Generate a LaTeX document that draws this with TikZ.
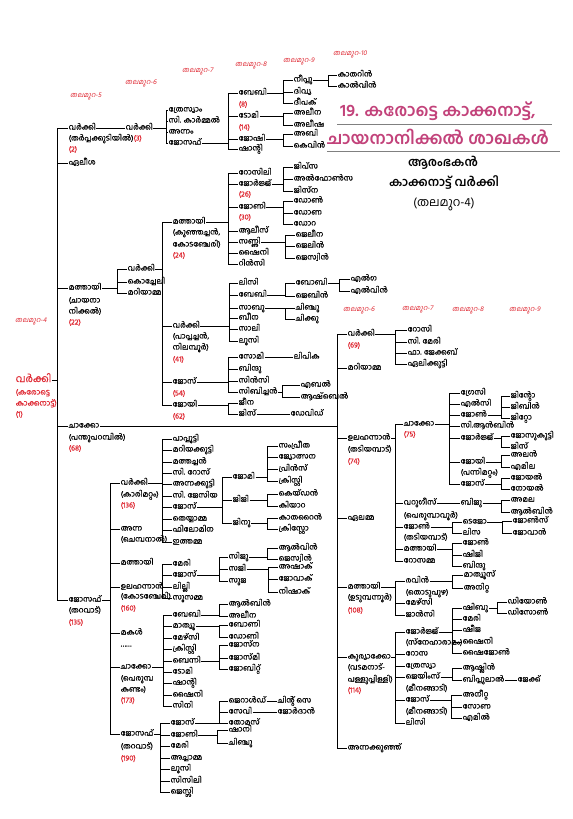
\documentclass[tikz,border=0pt]{standalone}
\usepackage{fontspec}
\newfontfamily\mlf[Script=Malayalam]{Hind Kochi}
\newfontfamily\mlm[Script=Malayalam,FakeBold=0.35]{Hind Kochi}
\newfontfamily\mlsl[Script=Malayalam,FakeSlant=0.2]{Hind Kochi}
\definecolor{redg}{RGB}{222,40,50}
\definecolor{ttl}{RGB}{194,66,122}
\newcommand\famln[5]{%
  \coordinate (vv) at (#2,0);
  \draw[ln] (#1.east) -- (#1.east -| vv);
  \draw[ln] (#3.west -| vv) -- (#4.west -| vv);
  \foreach \ch in {#5} {\draw[ln] (\ch.west -| vv) -- (\ch.west);}
}
\tikzset{
 nm/.style={anchor=west, inner sep=0.5bp, font=\mlm\fontsize{7.6}{9}\selectfont, text height=5bp, text depth=2bp},
 rn/.style={nm, text=redg},
 gl/.style={anchor=west, inner sep=0pt, font=\mlsl\fontsize{7}{8}\selectfont, text=redg},
 ln/.style={line width=0.8bp, black},
 ttlf/.style={anchor=west, inner sep=0pt, font=\mlf\bfseries\fontsize{17}{20}\selectfont, text=ttl},
}
\begin{document}
\begin{tikzpicture}[x=1bp,y=-1bp]
\useasboundingbox (0,0) rectangle (573,819);
% generation labels
\node[gl] (g5) at (70,97) {തലമുറ-5};
\node[gl] (g6) at (125,83) {തലമുറ-6};
\node[gl] (g7) at (182,72) {തലമുറ-7};
\node[gl] (g8) at (235,65) {തലമുറ-8};
\node[gl] (g9) at (283,61) {തലമുറ-9};
\node[gl] (g10) at (333,54) {തലമുറ-10};
\node[gl] (g4) at (15,322) {തലമുറ-4};
\node[gl] (g6b) at (343,310) {തലമുറ-6};
\node[gl] (g7b) at (402,310) {തലമുറ-7};
\node[gl] (g8b) at (452,310) {തലമുറ-8};
\node[gl] (g9b) at (509,310) {തലമുറ-9};
% title
\node[ttlf] (t1) at (340,111) {19. കരോട്ടെ കാക്കനാട്ട്,};
\node[ttlf] (t2) at (327,137) {ചായനാനിക്കൽ ശാഖകൾ};
\coordinate (u1a) at (337,124); \coordinate (u1b) at (552,124);
\coordinate (u2a) at (327,151); \coordinate (u2b) at (560,151);
\draw[gray, line width=0.8bp] (u1a) -- (u1b) (u2a) -- (u2b);
\node[font=\mlf\bfseries\fontsize{12}{14}\selectfont, inner sep=0pt] (h1) at (443,163) {ആരംഭകൻ};
\node[font=\mlf\bfseries\fontsize{12}{14}\selectfont, inner sep=0pt] (h2) at (444,183) {കാക്കനാട്ട് വർക്കി};
\node[font=\mlf\fontsize{12}{14}\selectfont, inner sep=0pt] (h3) at (444,204) {(തലമുറ-4)};
% root
\node[anchor=west, inner sep=0.5bp, font=\mlm\fontsize{10}{12}\selectfont, text=redg, text height=6bp, text depth=2bp] (r) at (15,380) {വർക്കി};
\node[rn] (rb) at (15,393) {(കരോട്ടെ};
\node[rn] (rc) at (15,404) {കാക്കനാട്ട്)};
\node[rn] (rd) at (15,415) {(1)};
% generation 5
\node[nm] (a1) at (68,128) {വർക്കി};
\node[nm] (a1b) at (68,139) {(തർപ്പക്കുടിയിൽ)\textcolor{redg}{(3)}};
\node[rn] (a1c) at (68,150) {(2)};
\node[nm] (a2) at (68,163) {ഏലീശ};
\node[nm] (a3) at (68,288) {മത്തായി};
\node[nm] (a3b) at (68,301) {(ചായനാ};
\node[nm] (a3c) at (68,312) {നിക്കൽ)};
\node[rn] (a3d) at (68,323) {(22)};
\node[nm] (a4) at (68,426) {ചാക്കോ};
\node[nm] (a4b) at (68,438) {(പന്തുപറമ്പിൽ)};
\node[rn] (a4c) at (68,449) {(68)};
\node[nm] (a5) at (68,600) {ജോസഫ്};
\node[nm] (a5b) at (68,611) {(തറവാട്)};
\node[rn] (a5c) at (68,623) {(135)};
\famln{r}{57}{a1}{a5}{a1,a2,a3,a4,a5}
% branch a1
\node[nm] (b1) at (125,128) {വർക്കി};
\draw[ln] (a1.east) -- (b1.west);
\node[nm] (c1) at (168,110) {ത്രേസ്യാം};
\node[nm] (c2) at (168,121) {സി. കാർമ്മൽ};
\node[nm] (c3) at (168,132) {അന്നം};
\node[nm] (c4) at (168,143) {ജോസഫ്};
\famln{b1}{166}{c1}{c4}{c1,c2,c3,c4}
\node[nm] (d1) at (238,93) {ബേബി};
\node[rn] (d1b) at (238,105) {(8)};
\node[nm] (d2) at (238,116) {ടോമി};
\node[rn] (d2b) at (238,128) {(14)};
\node[nm] (d3) at (238,139) {ജോഷി};
\node[nm] (d4) at (238,149) {ഷാന്റി};
\famln{c4}{228}{d1}{d4}{d1,d2,d3,d4}
\node[nm] (e1) at (293,80) {നീപ്പു};
\node[nm] (e2) at (293,92) {ദിവ്യ};
\node[nm] (e3) at (293,103) {ദീപക്};
\famln{d1}{283}{e1}{e3}{e1,e2,e3}
\node[nm] (f1) at (337,75) {കാതറിൻ};
\node[nm] (f2) at (337,86) {കാൽവിൻ};
\famln{e1}{328}{f1}{f2}{f1,f2}
\node[nm] (e4) at (293,113) {അലീന};
\node[nm] (e5) at (293,125) {അലീഷ};
\famln{d2}{283}{e4}{e5}{e4,e5}
\node[nm] (e6) at (293,134) {അബി};
\node[nm] (e7) at (293,146) {കെവിൻ};
\famln{d3}{283}{e6}{e7}{e6,e7}
% branch a3
\node[nm] (b2) at (127,269) {വർക്കി};
\node[nm] (b3) at (127,282) {കൊച്ചേലി};
\node[nm] (b4) at (127,293) {മറിയാമ്മ};
\famln{a3}{117}{b2}{b4}{b2,b3,b4}
\node[nm] (c5) at (172,222) {മത്തായി};
\node[nm] (c5b) at (172,233) {(കുഞ്ഞച്ചൻ,};
\node[nm] (c5c) at (172,245) {കോടഞ്ചേരി)};
\node[rn] (c5d) at (172,256) {(24)};
\node[nm] (c6) at (172,326) {വർക്കി};
\node[nm] (c6b) at (172,337) {(പാപ്പച്ചൻ,};
\node[nm] (c6c) at (172,348) {നിലമ്പൂർ)};
\node[rn] (c6d) at (172,360) {(41)};
\node[nm] (c7) at (172,382) {ജോസ്};
\node[rn] (c7b) at (172,394) {(54)};
\node[nm] (c8) at (172,405) {ജോയി};
\node[rn] (c8b) at (172,417) {(62)};
\famln{b2}{162}{c5}{c8}{c5,c6,c7,c8}
\node[nm] (d5) at (238,173) {റോസിലി};
\node[nm] (d6) at (238,184) {ജോർജ്ജ്};
\node[rn] (d6b) at (238,195) {(26)};
\node[nm] (d7) at (238,207) {ജോണി};
\node[rn] (d7b) at (238,218) {(30)};
\node[nm] (d8) at (238,231) {ആലീസ്};
\node[nm] (d9) at (238,242) {സണ്ണി};
\node[nm] (d10) at (238,253) {ഷൈനി};
\node[nm] (d11) at (238,264) {റിൻസി};
\famln{c5}{228}{d5}{d11}{d5,d6,d7,d8,d9,d10,d11}
\node[nm] (e8) at (293,167) {ജിപ്സ};
\node[nm] (e9) at (293,179) {അൽഫോൺസ};
\node[nm] (e10) at (293,191) {ജിസ്ന};
\famln{d6}{283}{e8}{e10}{e8,e9,e10}
\node[nm] (e11) at (293,201) {ഡോൺ};
\node[nm] (e12) at (293,213) {ഡോണ};
\node[nm] (e13) at (293,224) {ഡോറ};
\famln{d7}{283}{e11}{e13}{e11,e12,e13}
\node[nm] (e14) at (295,235) {ജെലീന};
\node[nm] (e15) at (295,246) {ജെലിൻ};
\node[nm] (e16) at (295,258) {ജെസ്വിൻ};
\famln{d9}{285}{e14}{e16}{e14,e15,e16}
\node[nm] (d12) at (238,283) {ലിസി};
\node[nm] (d13) at (238,295) {ബേബി};
\node[nm] (d14) at (238,308) {സാബു};
\node[nm] (d15) at (238,318) {ബീന};
\node[nm] (d16) at (238,329) {സാലി};
\node[nm] (d17) at (238,341) {ലൂസി};
\famln{c6}{229}{d12}{d17}{d12,d13,d14,d15,d16,d17}
\node[nm] (e17) at (295,283) {ബോബി};
\node[nm] (e18) at (295,296) {ജെബിൻ};
\famln{d13}{285}{e17}{e18}{e17,e18}
\node[nm] (f3) at (350,279) {എൽഗ};
\node[nm] (f4) at (350,291) {എൽവിൻ};
\famln{e17}{339}{f3}{f4}{f3,f4}
\node[nm] (e19) at (295,308) {ചിഞ്ചു};
\node[nm] (e20) at (295,319) {ചിക്കു};
\famln{d14}{285}{e19}{e20}{e19,e20}
\node[nm] (d18) at (238,357) {സോമി};
\node[nm] (d19) at (238,369) {ബിന്ദു};
\node[nm] (d20) at (238,381) {സിൻസി};
\node[nm] (d21) at (238,392) {സിബിച്ചൻ};
\famln{c7}{228}{d18}{d21}{d18,d19,d20,d21}
\node[nm] (e21) at (293,357) {ലിപിക};
\draw[ln] (d18.east) -- (e21.west);
\node[nm] (e22) at (300,385) {എബൽ};
\node[nm] (e23) at (300,397) {ആഷ്ബെൽ};
\famln{d21}{282}{e22}{e23}{e22,e23}
\node[nm] (d22) at (238,403) {ജീന};
\node[nm] (d23) at (238,414) {ജിസ്};
\famln{c8}{228}{d22}{d23}{d22,d23}
\node[nm] (e24) at (290,414) {ഡേവിഡ്};
\draw[ln] (d23.east) -- (e24.west);
% branch a4
\node[nm] (b5) at (347,334) {വർക്കി};
\node[rn] (b5b) at (347,346) {(69)};
\node[nm] (b6) at (347,368) {മറിയാമ്മ};
\node[nm] (b7) at (347,438) {ഉലഹന്നാൻ};
\node[nm] (b7b) at (347,450) {(തടിയമ്പാട്)};
\node[rn] (b7c) at (347,462) {(74)};
\node[nm] (b8) at (347,518) {ഏലമ്മ};
\node[nm] (b9) at (347,587) {മത്തായി};
\node[nm] (b9b) at (347,598) {(ഉടുമ്പന്നൂർ)};
\node[rn] (b9c) at (347,611) {(108)};
\node[nm] (b10) at (347,657) {കുര്യാക്കോ};
\node[nm] (b10b) at (347,668) {(വടമനാട്-};
\node[nm] (b10c) at (347,680) {പള്ളുപ്പിള്ളി)};
\node[rn] (b10d) at (347,691) {(114)};
\node[nm] (b11) at (347,748) {അന്നക്കുഞ്ഞ്};
\famln{a4}{337}{b5}{b11}{b5,b6,b7,b8,b9,b10,b11}
\node[nm] (c9) at (407,330) {റോസി};
\node[nm] (c10) at (407,342) {സി. മേരി};
\node[nm] (c11) at (407,353) {ഫാ. ജേക്കബ്};
\node[nm] (c12) at (407,364) {ഏലിക്കുട്ടി};
\famln{b5}{395}{c9}{c12}{c9,c10,c11,c12}
\node[nm] (c13) at (403,424) {ചാക്കോ};
\node[rn] (c13b) at (403,435) {(75)};
\node[nm] (c14) at (403,503) {വറുഗീസ്};
\node[nm] (c14b) at (403,516) {(പെരുമ്പാവൂർ)};
\node[nm] (c15) at (403,527) {ജോൺ};
\node[nm] (c15b) at (403,538) {(തടിയമ്പാട്)};
\node[nm] (c16) at (403,549) {മത്തായി};
\node[nm] (c17) at (403,561) {റോസമ്മ};
\famln{b7}{395}{c13}{c17}{c13,c14,c15,c16,c17}
\node[nm] (d24) at (460,393) {ഗ്രേസി};
\node[nm] (d25) at (460,404) {എൽസി};
\node[nm] (d26) at (460,415) {ജോൺ};
\node[nm] (d27) at (460,426) {സി.ആൻബിൻ};
\node[nm] (d28) at (460,438) {ജോർജ്ജ്};
\node[nm] (d29) at (460,462) {ജോയി};
\node[nm] (d29b) at (460,473) {(പന്നിമറ്റം)};
\node[nm] (d30) at (460,484) {ജോസ്};
\famln{c13}{449}{d24}{d30}{d24,d25,d26,d27,d28,d29,d30}
\node[nm] (e25) at (510,396) {ജിന്റോ};
\node[nm] (e26) at (510,407) {ജിബിൻ};
\node[nm] (e27) at (510,418) {ജിറ്റോ};
\famln{d26}{501}{e25}{e27}{e25,e26,e27}
\node[nm] (e28) at (510,436) {ജോസുകുട്ടി};
\node[nm] (e29) at (510,447) {ജിസ്};
\famln{d28}{501}{e28}{e29}{e28,e29}
\node[nm] (e30) at (510,455) {അലൻ};
\node[nm] (e31) at (510,467) {എമില};
\famln{d29}{501}{e30}{e31}{e30,e31}
\node[nm] (e32) at (510,478) {ജോയൽ};
\node[nm] (e33) at (510,489) {നോയൽ};
\famln{d30}{501}{e32}{e33}{e32,e33}
\node[nm] (d31) at (460,503) {ബിജു};
\draw[ln] (c14.east) -- (d31.west);
\node[nm] (e34) at (510,500) {അമല};
\node[nm] (e35) at (510,512) {ആൽബിൻ};
\famln{d31}{501}{e34}{e35}{e34,e35}
\node[nm] (d32) at (462,522) {ടെജോ};
\node[nm] (d33) at (462,533) {ലിസ};
\famln{c15}{452}{d32}{d33}{d32,d33}
\node[nm] (e36) at (512,521) {ജോൺസ്};
\node[nm] (e37) at (512,533) {ജോവാൻ};
\famln{d32}{502}{e36}{e37}{e36,e37}
\node[nm] (d34) at (462,543) {ജോൺ};
\node[nm] (d35) at (462,555) {ഷിജി};
\node[nm] (d36) at (462,566) {ബിന്ദു};
\famln{c16}{452}{d34}{d36}{d34,d35,d36}
\node[nm] (c18) at (405,581) {രവിൻ};
\node[nm] (c18b) at (405,593) {(തൊടുപുഴ)};
\node[nm] (c19) at (405,603) {മേഴ്സി};
\node[nm] (c20) at (405,615) {ജാൻസി};
\famln{b9}{395}{c18}{c20}{c18,c19,c20}
\node[nm] (d37) at (463,575) {മാത്യൂസ്};
\node[nm] (d38) at (463,588) {അനിറ്റ};
\famln{c18}{452}{d37}{d38}{d37,d38}
\node[nm] (c21) at (405,632) {ജോർജ്ജ്};
\node[nm] (c21b) at (405,643) {(സ്നേഹാരാമം)};
\node[nm] (c22) at (405,654) {റോസ};
\node[nm] (c23) at (405,666) {ത്രേസ്യാ};
\node[nm] (c24) at (405,677) {ജെയിംസ്};
\node[nm] (c24b) at (405,689) {(മീനങ്ങാടി)};
\node[nm] (c25) at (405,700) {ജോസ്};
\node[nm] (c25b) at (405,712) {(മീനങ്ങാടി)};
\node[nm] (c26) at (405,723) {ലിസി};
\famln{b10}{395}{c21}{c26}{c21,c22,c23,c24,c25,c26}
\node[nm] (d39) at (462,608) {ഷിബു};
\node[nm] (d40) at (462,619) {മേരി};
\node[nm] (d41) at (462,630) {ഷീജ};
\node[nm] (d42) at (462,642) {ഷൈനി};
\node[nm] (d43) at (462,653) {ഷൈജോൺ};
\famln{c21}{452}{d39}{d43}{d39,d40,d41,d42,d43}
\node[nm] (e38) at (507,602) {ഡിയോൺ};
\node[nm] (e39) at (507,613) {ഡിസോൺ};
\famln{d39}{497}{e38}{e39}{e38,e39}
\node[nm] (d44) at (462,668) {ആഷ്ലിൻ};
\node[nm] (d45) at (462,680) {ബിപ്പുലാൽ};
\famln{c24}{452}{d44}{d45}{d44,d45}
\node[nm] (e40) at (517,680) {ജേക്ക്};
\draw[ln] (d45.east) -- (e40.west);
\node[nm] (d46) at (462,695) {അനീറ്റ};
\node[nm] (d47) at (462,707) {സോണ};
\node[nm] (d48) at (462,718) {എമിൽ};
\famln{c25}{451}{d46}{d48}{d46,d47,d48}
% branch a5
\node[nm] (b12) at (120,483) {വർക്കി};
\node[nm] (b12b) at (120,495) {(കാരിമറ്റം)};
\node[rn] (b12c) at (120,506) {(136)};
\node[nm] (b13) at (120,529) {അന്ന};
\node[nm] (b13b) at (120,540) {(ചെമ്പനാൽ)};
\node[nm] (b14) at (120,563) {മത്തായി};
\node[nm] (b15) at (120,587) {ഉലഹന്നാൻ};
\node[nm] (b15b) at (120,597) {(കോടഞ്ചേരി)};
\node[rn] (b15c) at (120,609) {(160)};
\node[nm] (b16) at (120,633) {മകൾ};
\node[nm] (b16b) at (120,645) {……};
\node[nm] (b17) at (120,667) {ചാക്കോ};
\node[nm] (b17b) at (120,679) {(പെരുമ്പ};
\node[nm] (b17c) at (120,690) {കണ്ടം)};
\node[rn] (b17d) at (120,701) {(173)};
\node[nm] (b18) at (120,734) {ജോസഫ്};
\node[nm] (b18b) at (120,747) {(തറവാട്)};
\node[rn] (b18c) at (120,759) {(190)};
\famln{a5}{110}{b12}{b18}{b12,b13,b14,b15,b16,b17,b18}
\node[nm] (c27) at (172,439) {പാപ്പൂട്ടി};
\node[nm] (c28) at (172,450) {മറിയക്കുട്ടി};
\node[nm] (c29) at (172,462) {മത്തച്ചൻ};
\node[nm] (c30) at (172,473) {സി. റോസ്};
\node[nm] (c31) at (172,484) {അന്നക്കുട്ടി};
\node[nm] (c32) at (172,496) {സി. ജേസിയ};
\node[nm] (c33) at (172,507) {ജോസ്};
\node[nm] (c34) at (172,519) {തെയ്യാമ്മ};
\node[nm] (c35) at (172,530) {ഫിലോമിന};
\node[nm] (c36) at (172,542) {ഇത്തമ്മ};
\famln{b12}{162}{c27}{c36}{c27,c28,c29,c30,c31,c32,c33,c34,c35,c36}
\node[nm] (d49) at (232,477) {ജോമി};
\node[nm] (d50) at (232,500) {ജിജി};
\node[nm] (d51) at (232,523) {ജിനു};
\famln{c33}{222}{d49}{d51}{d49,d50,d51}
\node[nm] (e41) at (278,446) {സംപ്രീത};
\node[nm] (e42) at (278,457) {ജ്യോത്സന};
\node[nm] (e43) at (278,469) {പ്രിൻസ്};
\node[nm] (e44) at (278,481) {ക്രിസ്റ്റി};
\famln{d49}{267}{e41}{e44}{e41,e42,e43,e44}
\node[nm] (e45) at (278,494) {കെയ്ഡൻ};
\node[nm] (e46) at (278,506) {കിയാറ};
\famln{d50}{267}{e45}{e46}{e45,e46}
\node[nm] (e47) at (278,518) {കാതറൈൻ};
\node[nm] (e48) at (278,529) {ക്രിസ്റ്റോ};
\famln{d51}{267}{e47}{e48}{e47,e48}
\node[nm] (c37) at (172,564) {മേരി};
\node[nm] (c38) at (172,575) {ജോസ്};
\node[nm] (c39) at (172,587) {ലില്ലി};
\node[nm] (c40) at (172,598) {സൂസമ്മ};
\famln{b15}{162}{c37}{c40}{c37,c38,c39,c40}
\node[nm] (d52) at (228,557) {സിജു};
\node[nm] (d53) at (228,569) {സജി};
\node[nm] (d54) at (228,581) {സുജ};
\famln{c38}{219}{d52}{d54}{d52,d53,d54}
\node[nm] (e49) at (278,548) {ആൽവിൻ};
\node[nm] (e50) at (278,559) {ജെസ്വിൻ};
\famln{d52}{267}{e49}{e50}{e49,e50}
\node[nm] (e51) at (278,567) {അഷാക്};
\node[nm] (e52) at (278,579) {ജോവാക്};
\node[nm] (e53) at (278,592) {നിഷാക്};
\famln{d53}{268}{e51}{e53}{e51,e52,e53}
\node[nm] (c41) at (172,615) {ബേബി};
\node[nm] (c42) at (172,626) {മാത്യൂ};
\node[nm] (c43) at (172,638) {മേഴ്സി};
\node[nm] (c44) at (172,649) {ക്രിസ്റ്റി};
\node[nm] (c45) at (172,661) {ബെന്നി};
\node[nm] (c46) at (172,672) {ടോമി};
\node[nm] (c47) at (172,683) {ഷാന്റി};
\node[nm] (c48) at (172,695) {ഷൈനി};
\node[nm] (c49) at (172,706) {സിനി};
\famln{b17}{163}{c41}{c49}{c41,c42,c43,c44,c45,c46,c47,c48,c49}
\node[nm] (d55) at (228,604) {ആൽബിൻ};
\node[nm] (d56) at (228,616) {അലീന};
\famln{c41}{219}{d55}{d56}{d55,d56}
\node[nm] (d57) at (228,625) {ബോണി};
\node[nm] (d58) at (228,637) {ഡോണി};
\famln{c42}{219}{d57}{d58}{d57,d58}
\node[nm] (d59) at (228,645) {ജോസ്ന};
\node[nm] (d60) at (228,658) {ജോസ്മി};
\node[nm] (d61) at (228,669) {ജോബിറ്റ്};
\famln{c45}{219}{d59}{d61}{d59,d60,d61}
\node[nm] (c50) at (170,723) {ജോസ്};
\node[nm] (c51) at (170,735) {ജോണി};
\node[nm] (c52) at (170,746) {മേരി};
\node[nm] (c53) at (170,758) {അച്ചാമ്മ};
\node[nm] (c54) at (170,769) {ലൂസി};
\node[nm] (c55) at (170,781) {സിസിലി};
\node[nm] (c56) at (170,792) {ജെസ്സി};
\famln{b18}{160}{c50}{c56}{c50,c51,c52,c53,c54,c55,c56}
\node[nm] (d62) at (228,701) {ജെറാൾഡ്};
\node[nm] (d63) at (228,712) {സേവി};
\node[nm] (d64) at (228,723) {തോമസ്};
\famln{c50}{219}{d62}{d64}{d62,d63,d64}
\node[nm] (e54) at (277,701) {ചിന്റ് സെ};
\draw[ln] (d62.east) -- (e54.west);
\node[nm] (e55) at (277,712) {ജോർദാൻ};
\draw[ln] (d63.east) -- (e55.west);
\node[nm] (d65) at (228,730) {ഷാനി};
\node[nm] (d66) at (228,743) {ചിഞ്ചു};
\famln{c51}{217}{d65}{d66}{d65,d66}
\end{tikzpicture}
\end{document}
